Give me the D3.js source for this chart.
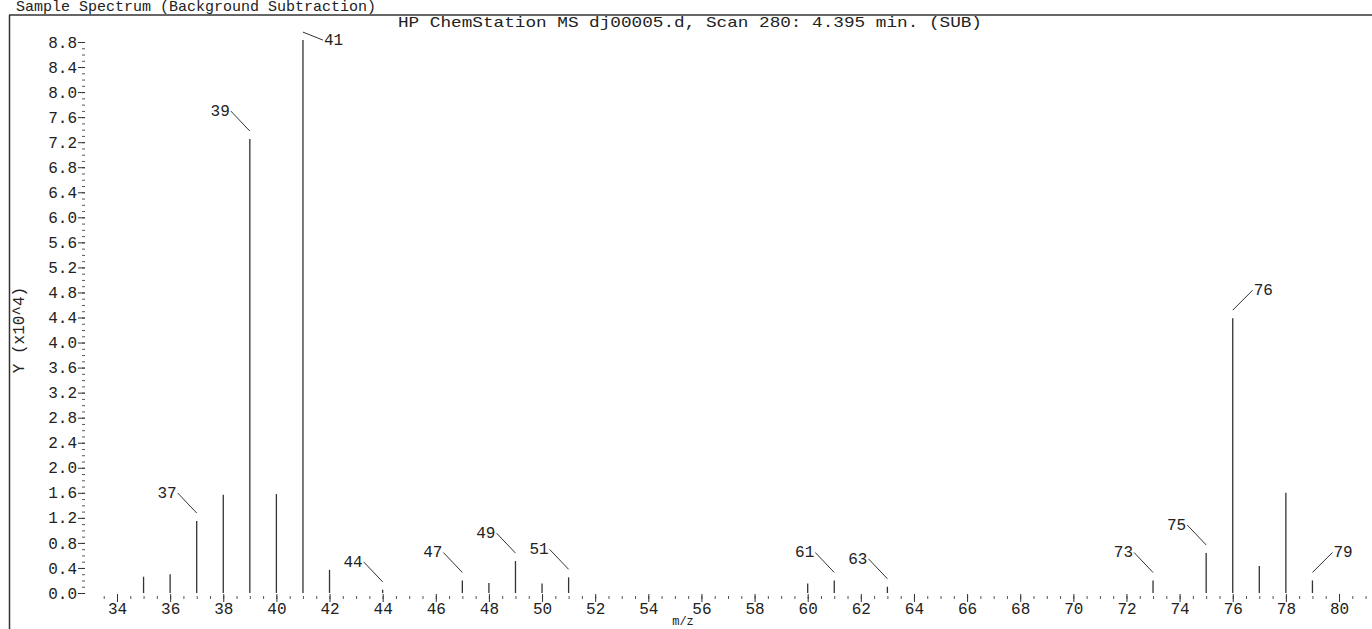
<!DOCTYPE html>
<html>
<head>
<meta charset="utf-8">
<script src="https://cdn.jsdelivr.net/npm/d3@7"></script>
<style>
  body { margin: 0; background: #fff; }
  text { font-family: "Liberation Mono", "DejaVu Sans Mono", monospace; fill: #222; }
</style>
</head>
<body>
<svg id="chart"></svg>
<script>
// m/z och intensitet (x10^4)
const mz = [35, 36, 37, 38, 39, 40, 41, 42, 44, 47, 48, 49, 50, 51, 60, 61, 63, 73, 75, 76, 77, 78, 79];
const intensity = [0.26, 0.30, 1.15, 1.57, 7.25, 1.58, 8.83, 0.37, 0.05, 0.20, 0.16, 0.51, 0.15, 0.25, 0.15, 0.20, 0.10, 0.20, 0.64, 4.39, 0.43, 1.60, 0.20];

// peakar som har etikett, och vilka som har etiketten till höger
const labeledMz = [37, 39, 41, 44, 47, 49, 51, 61, 63, 73, 75, 76, 79];
const rightLabels = [41, 76, 79];

const yTicks = [0.0, 0.4, 0.8, 1.2, 1.6, 2.0, 2.4, 2.8, 3.2, 3.6, 4.0, 4.4, 4.8, 5.2, 5.6, 6.0, 6.4, 6.8, 7.2, 7.6, 8.0, 8.4, 8.8];
const xTicks = [34, 36, 38, 40, 42, 44, 46, 48, 50, 52, 54, 56, 58, 60, 62, 64, 66, 68, 70, 72, 74, 76, 78, 80];

const titleText = "Sample Spectrum (Background Subtraction)";
const headerText = "HP ChemStation MS dj00005.d, Scan 280: 4.395 min. (SUB)";

const wSvg = 1372;
const hSvg = 629;

const data = mz.map((m, i) => ({ mz: m, value: intensity[i] }));

const svg = d3.select("#chart")
  .attr("width", wSvg)
  .attr("height", hSvg);

const x = d3.scaleLinear()
  .domain([34, 80])
  .range([117, 1339]);

const y = d3.scaleLinear()
  .domain([0, 8.8])
  .range([593, 42]);

// ram
svg.append("line")
  .attr("x1", 9).attr("x2", wSvg)
  .attr("y1", 15).attr("y2", 15)
  .attr("stroke", "#333").attr("stroke-width", 1.5);

svg.append("line")
  .attr("x1", 9.5).attr("x2", 9.5)
  .attr("y1", 15).attr("y2", hSvg)
  .attr("stroke", "#333").attr("stroke-width", 1.5);

svg.append("text")
  .attr("x", 16)
  .attr("y", 11)
  .style("font-size", "15px")
  .text(titleText);

svg.append("text")
  .attr("x", 398)
  .attr("y", 27)
  .attr("textLength", 584)
  .attr("lengthAdjust", "spacingAndGlyphs")
  .style("font-size", "15px")
  .text(headerText);

// y-axel
const yMinor = d3.range(0, 8.85, 0.1);

svg.append("g")
  .attr("transform", "translate(85, 0)")
  .call(d3.axisLeft(y).tickValues(yMinor).tickSize(3).tickFormat(""))
  .call(g => g.select(".domain").remove())
  .call(g => g.selectAll("line").attr("stroke", "#555"));

svg.append("g")
  .attr("transform", "translate(85, 0)")
  .call(d3.axisLeft(y).tickValues(yTicks).tickSize(7).tickPadding(1).tickFormat(d3.format(".1f")))
  .call(g => g.select(".domain").remove())
  .call(g => g.selectAll("line").attr("stroke", "#333"))
  .call(g => g.selectAll("text").style("font-size", "16px").attr("fill", "#222"));

svg.append("text")
  .attr("transform", "translate(24, 330) rotate(-90)")
  .attr("text-anchor", "middle")
  .style("font-size", "16px")
  .text("Y (x10^4)");

// x-axel
const xMinor = d3.range(33.5, 81.1, 0.5);

svg.append("g")
  .attr("transform", "translate(0, 596)")
  .call(d3.axisBottom(x).tickValues(xMinor).tickSize(3).tickFormat(""))
  .call(g => g.select(".domain").remove())
  .call(g => g.selectAll("line").attr("stroke", "#555"));

svg.append("g")
  .attr("transform", "translate(0, 594)")
  .call(d3.axisBottom(x).tickValues(xTicks).tickSize(8).tickPadding(1))
  .call(g => g.select(".domain").remove())
  .call(g => g.selectAll("line").attr("stroke", "#333"))
  .call(g => g.selectAll("text").style("font-size", "16px").attr("fill", "#222"));

svg.append("text")
  .attr("x", 683)
  .attr("y", 625)
  .attr("text-anchor", "middle")
  .style("font-size", "12px")
  .text("m/z");

// peakar
svg.append("g")
  .selectAll("line")
  .data(data)
  .enter()
  .append("line")
  .attr("x1", d => x(d.mz))
  .attr("x2", d => x(d.mz))
  .attr("y1", y(0))
  .attr("y2", d => y(d.value))
  .attr("stroke", "#333")
  .attr("stroke-width", 1.3);

// etiketter med ledlinjer
const labeled = data.filter(d => labeledMz.includes(d.mz));

const labelG = svg.append("g")
  .selectAll("g")
  .data(labeled)
  .enter()
  .append("g");

labelG.append("line")
  .attr("x1", d => x(d.mz))
  .attr("y1", d => y(d.value) - 8)
  .attr("x2", d => x(d.mz) + leaderDx(d))
  .attr("y2", d => leaderEnd(d))
  .attr("stroke", "#333")
  .attr("stroke-width", 1);

labelG.append("text")
  .attr("x", d => x(d.mz) + leaderDx(d) + (leaderDx(d) > 0 ? 1 : -1))
  .attr("y", d => leaderEnd(d) + 5)
  .attr("text-anchor", d => leaderDx(d) > 0 ? "start" : "end")
  .style("font-size", "16px")
  .text(d => d.mz);

function leaderDx(d) {
  if (rightLabels.includes(d.mz)) {
    return 20;
  }
  return -19;
};

// 41 har en nästan vågrät ledlinje, övriga går snett uppåt
function leaderEnd(d) {
  if (d.mz === 41) {
    return y(d.value);
  }
  return y(d.value) - 28;
};
</script>
</body>
</html>
